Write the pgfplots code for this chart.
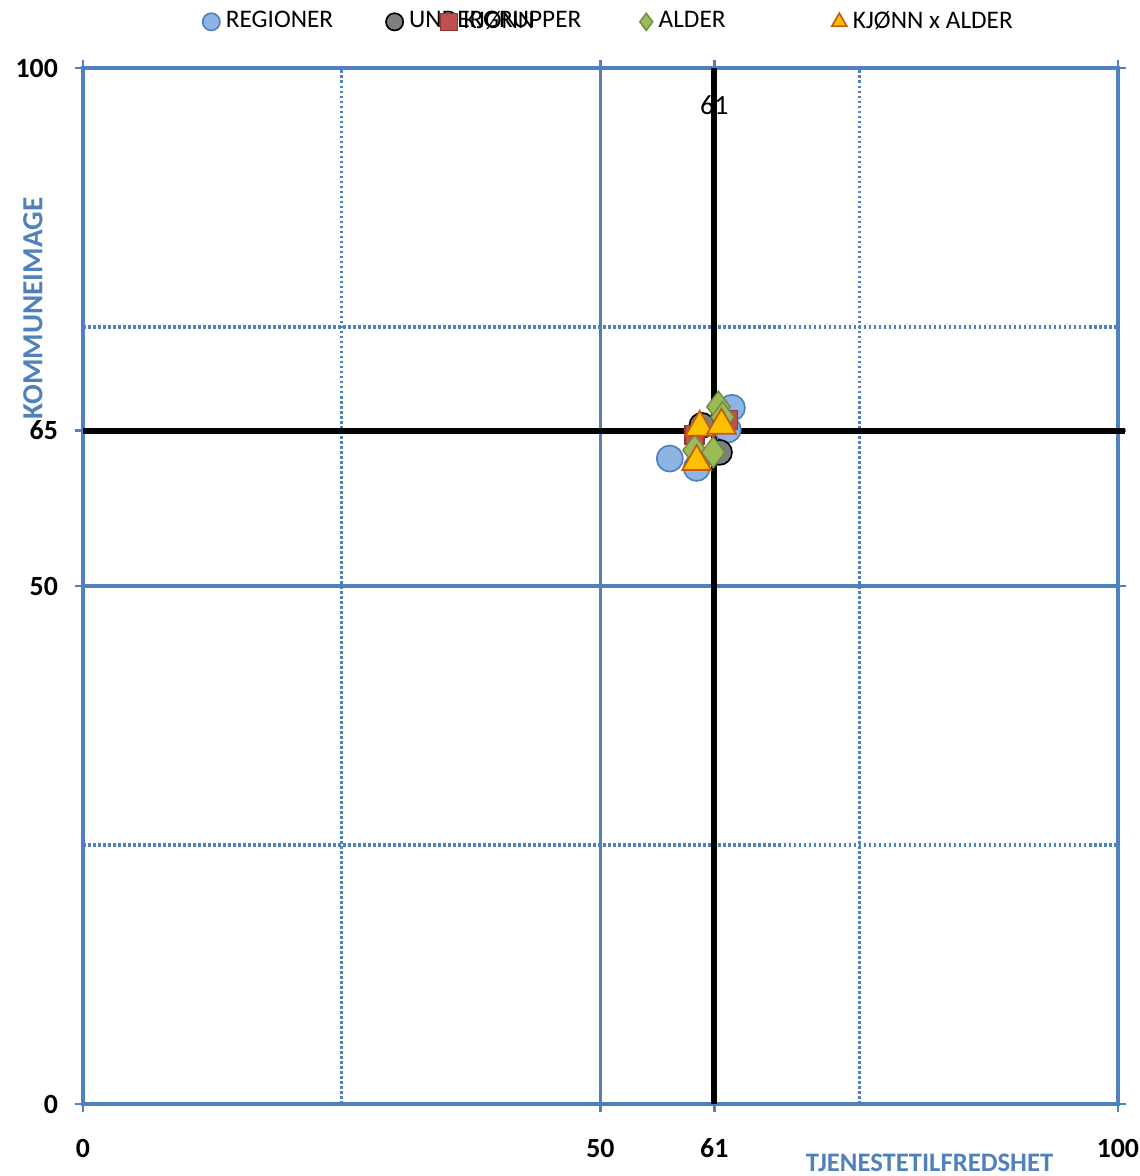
\documentclass[border=0pt]{standalone}
\usepackage{pgfplots}
\pgfplotsset{compat=1.18}
\usepackage{fontspec}
\setmainfont{Carlito}
\definecolor{axblue}{HTML}{4F81BD}
\definecolor{cblue}{HTML}{8DB4E2}
\definecolor{cgray}{HTML}{7F7F7F}
\definecolor{cred}{HTML}{C0504D}
\definecolor{credb}{HTML}{8C3836}
\definecolor{cgreen}{HTML}{9BBB59}
\definecolor{cgreenb}{HTML}{71893F}
\definecolor{cyel}{HTML}{FFC000}
\definecolor{cyelb}{HTML}{C55A11}
\begin{document}
\begin{tikzpicture}
\begin{axis}[name=ax, scale only axis, width=372.3pt, height=372.7pt,
  xmin=0, xmax=100, ymin=0, ymax=100, clip=false,
  axis line style={axblue, line width=1.4pt},
  xtick={0,50,61,100}, ytick={0,50,65,100},
  tick align=outside, major tick length=3pt,
  tick style={axblue, line width=1pt},
  ticklabel style={font=\fontsize{10}{12}\selectfont\bfseries},
  /pgf/number format/assume math mode=true,
  yticklabel style={xshift=-2.5pt},
  xticklabel style={yshift=-6pt},
  legend image code/.code={\draw[mark repeat=2,mark phase=2,#1,mark size=3.1pt] plot coordinates {(0cm,0cm) (0.1cm,0cm) (0.2cm,0cm)};},
  legend style={draw=none, fill=none, inner sep=0pt, legend columns=-1,
    at={(rel axis cs:0,1)}, anchor=west, xshift=42.85pt, yshift=16.6pt,
    font=\fontsize{9.1}{11}\selectfont,
    nodes={inner sep=0pt, anchor=west},
    /tikz/every odd column/.append style={column sep=2.15pt},
    /tikz/every even column/.append style={column sep=0pt}},
]
% grid
\draw[axblue, line width=1.4pt] (axis cs:50,0) -- (axis cs:50,100);
\draw[axblue, line width=1.4pt] (axis cs:0,50) -- (axis cs:100,50);
\draw[axblue, line width=1.1pt, dash pattern=on 1pt off 0.8pt] (axis cs:25,0) -- (axis cs:25,100);
\draw[axblue, line width=1.1pt, dash pattern=on 1pt off 0.8pt] (axis cs:75,0) -- (axis cs:75,100);
\draw[axblue, line width=1.1pt, dash pattern=on 1pt off 0.8pt] (axis cs:0,25) -- (axis cs:100,25);
\draw[axblue, line width=1.1pt, dash pattern=on 1pt off 0.8pt] (axis cs:0,75) -- (axis cs:100,75);
% reference lines
\draw[black, line width=2.2pt] (axis cs:61,0) -- (axis cs:61,100);
\draw[black, line width=2.2pt] (axis cs:0,65) -- (axis cs:100.7,65);
\node[font=\fontsize{10}{12}\selectfont] at (axis cs:61,96.4) {61};

\addplot[only marks, mark=*, mark size=4.7pt, mark options={fill=cblue, draw=axblue, line width=0.6pt}]
  coordinates {(56.7,62.3) (59.3,61.4) (62.7,67.2) (62.3,65.1)};
\addlegendentry{\makebox[57.6pt][l]{REGIONER}}
\addplot[only marks, mark=*, mark size=4.5pt, mark options={fill=cgray, draw=black, line width=0.6pt}]
  coordinates {(59.8,65.5) (61.5,62.9)};
\addlegendentry{\makebox[11.2pt][l]{UNDERGRUPPER}}
\addplot[only marks, mark=square*, mark size=3.4pt, mark options={fill=cred, draw=credb, line width=0.5pt}]
  coordinates {(59.1,64.6) (62.3,66.0)};
\addlegendentry{\makebox[63.4pt][l]{KJØNN}}
\addplot[only marks, mark=diamond*, mark size=5.6pt, mark options={fill=cgreen, draw=cgreenb, line width=0.5pt}]
  coordinates {(61.4,67.3) (59.1,63.1) (60.9,62.9) (61.8,66.3)};
\addlegendentry{\makebox[62.3pt][l]{ALDER}}
\addplot[only marks, mark=triangle*, mark size=6pt, mark options={fill=cyel, draw=cyelb, line width=0.6pt}]
  coordinates {(59.6,65.3) (61.7,65.5) (59.3,62.0)};
\addlegendentry{KJØNN x ALDER}

\node[rotate=90, text=axblue, font=\fontsize{10.5}{12}\selectfont\bfseries] at ([xshift=-18pt]rel axis cs:0,0.768) {KOMMUNEIMAGE};
\node[text=axblue, font=\fontsize{9.6}{11}\selectfont\bfseries] at ([yshift=-21.3pt]rel axis cs:0.818,0) {TJENESTETILFREDSHET};
\end{axis}
\pgfresetboundingbox
\path ([shift={(-29.86pt,-25.9pt)}]ax.south west) rectangle ([shift={(7.9pt,24.46pt)}]ax.north east);
\end{tikzpicture}
\end{document}
